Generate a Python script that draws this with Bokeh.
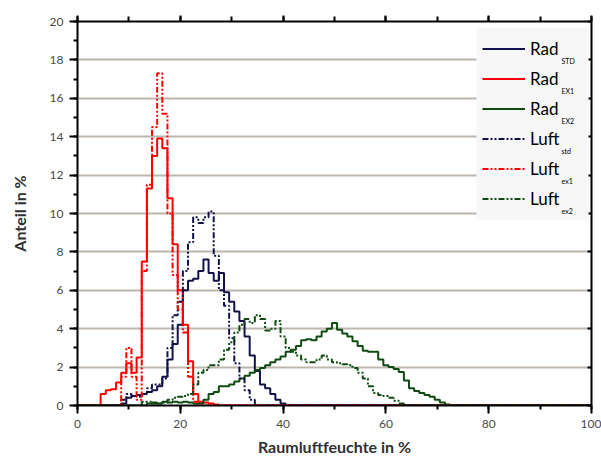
from bokeh.plotting import figure
from bokeh.models import (LinearAxis, SingleIntervalTicker, Legend, LegendItem,
                          Label, Range1d, CustomJSTickFormatter, BoxAnnotation)
from bokeh.embed import file_html
from bokeh.resources import INLINE

# ---------------- data ----------------
x_title = "Raumluftfeuchte in %"
y_title = "Anteil in %"
legend_names = ["Rad", "Rad", "Rad", "Luft", "Luft", "Luft"]
legend_subs = ["STD", "EX1", "EX2", "std", "ex1", "ex2"]

# histogram values (Anteil in %) per 1 % humidity bin, starting at the given humidity
rad_std_start = 8
rad_std = [0, 0.1, 0.4, 0.5, 0.55, 0.6, 0.7, 0.8, 1.0, 1.5, 2.4, 3.2, 4.2, 6.0, 6.5, 6.6,
           7.0, 7.6, 6.9, 6.5, 6.9, 5.9, 5.4, 4.9, 4.4, 3.6, 2.6, 1.8, 1.1, 0.9, 0.6, 0.3,
           0.1, 0]

rad_ex1_start = 4
rad_ex1 = [0, 0.6, 0.8, 0.85, 1.2, 1.7, 2.2, 1.7, 2.5, 7.5, 11.3, 13.0, 13.9, 13.4, 10.8,
           8.4, 6.0, 4.2, 2.3, 0.6, 0.2, 0.15, 0.1, 0.05, 0]

rad_ex2_start = 13
rad_ex2 = [0, 0.1, 0.15, 0.1, 0.2, 0.15, 0.2, 0.15, 0.2, 0.15, 0.1, 0.1, 0.3, 0.6, 0.7,
           1.0, 1.0, 1.1, 1.25, 1.4, 1.55, 1.7, 1.85, 1.95, 2.1, 2.25, 2.4, 2.55, 2.8, 2.9,
           3.1, 3.4, 3.45, 3.4, 3.6, 3.85, 4.0, 4.3, 3.95, 3.75, 3.6, 3.35, 3.1, 2.85, 2.8,
           2.8, 2.4, 2.1, 2.0, 1.9, 1.75, 1.3, 0.9, 0.75, 0.65, 0.55, 0.45, 0.3, 0.15, 0.05, 0]

luft_std_start = 8
luft_std = [0, 0.3, 0.6, 0.5, 0.45, 0.6, 0.9, 1.1, 1.1, 1.4, 3.0, 4.7, 5.4, 7.0, 8.5, 9.8,
            9.5, 9.8, 10.1, 7.8, 6.0, 5.2, 3.5, 2.2, 1.4, 0.8, 0.3, 0]

luft_ex1_start = 8
luft_ex1 = [0, 1.5, 3.0, 1.5, 0.3, 7.0, 11.5, 14.5, 17.3, 15.2, 10.0, 6.8, 5.0, 3.8, 1.5,
            0.2, 0]

luft_ex2_start = 12
luft_ex2 = [0, 0.2, 0.2, 0.1, 0.1, 0.15, 0.3, 0.4, 0.45, 0.5, 0.6, 1.1, 1.7, 1.85, 2.1,
            2.1, 2.4, 2.9, 3.3, 3.8, 4.2, 4.5, 4.3, 4.7, 4.5, 3.9, 4.0, 4.4, 3.6, 3.0, 2.8,
            2.6, 2.4, 2.25, 2.25, 2.4, 2.6, 2.4, 2.25, 2.2, 2.15, 2.1, 1.95, 1.7, 1.4, 1.0,
            0.65, 0.55, 0.5, 0.4, 0.25, 0.1, 0]

x_min, x_max = 0, 100
y_min, y_max = 0, 20


def full_series(start, vals):
    xs = list(range(x_min, x_max + 1))
    ys = [0.0] * len(xs)
    for i, v in enumerate(vals):
        ys[start + i] = v
    return xs, ys


# ---------------- styling ----------------
NAVY = "#12124a"
RED = "#ff0000"
GREEN = "#0e4a12"
DASHDOT = "6 2 2 2 2 2"
FONT = "Lato"

W, H = 601, 461
BL, BR, BT, BB = 77, 10, 21, 56
FW, FH = W - BL - BR, H - BT - BB


def px_to_x(px):   # px right of the frame's left edge -> data x
    return x_min + px * (x_max - x_min) / FW


def px_to_y(px):   # px above the frame's bottom edge -> data y
    return y_min + px * (y_max - y_min) / FH


p = figure(width=W, height=H, output_backend="svg", toolbar_location=None,
           x_range=Range1d(x_min, x_max), y_range=Range1d(y_min, y_max),
           min_border_left=BL, min_border_right=BR, min_border_top=BT,
           min_border_bottom=BB, x_axis_label=x_title, y_axis_label=y_title)
p.outline_line_color = None
p.background_fill_color = "white"
p.border_fill_color = "white"

p.xgrid.visible = False
p.ygrid.grid_line_color = "#bdb6ae"
p.ygrid.grid_line_width = 2

xt = SingleIntervalTicker(interval=20, num_minor_ticks=2)
yt = SingleIntervalTicker(interval=2, num_minor_ticks=2)
p.xaxis.ticker = xt
p.yaxis.ticker = yt

for ax in (p.xaxis[0], p.yaxis[0]):
    ax.axis_line_width = 2
    ax.axis_line_color = "black"
    ax.major_tick_line_width = 2
    ax.minor_tick_line_width = 2
    ax.major_tick_in = 0
    ax.major_tick_out = 8
    ax.minor_tick_in = 0
    ax.minor_tick_out = 4
    ax.major_label_text_font = FONT
    ax.major_label_text_font_size = "12px"
    ax.major_label_text_color = "#4a4a4a"
    ax.axis_label_text_font = FONT
    ax.axis_label_text_font_style = "bold"
    ax.axis_label_text_font_size = "16px"
    ax.axis_label_text_color = "#303030"

p.xaxis.major_label_standoff = 6
p.xaxis.axis_label_standoff = 6
p.yaxis.major_label_standoff = 6
p.yaxis.axis_label_standoff = 18

top = LinearAxis(ticker=SingleIntervalTicker(interval=20, num_minor_ticks=2),
                 formatter=CustomJSTickFormatter(code="return '';"), axis_line_width=2,
                 major_tick_in=0, major_tick_out=6, minor_tick_in=0, minor_tick_out=5,
                 major_tick_line_width=2, minor_tick_line_width=2)
p.add_layout(top, "above")
right = LinearAxis(ticker=SingleIntervalTicker(interval=2, num_minor_ticks=2),
                   formatter=CustomJSTickFormatter(code="return '';"), axis_line_width=2,
                   major_tick_in=4, major_tick_out=0, minor_tick_in=0, minor_tick_out=0,
                   major_tick_line_width=2)
p.add_layout(right, "right")

series = [
    (rad_std_start, rad_std, NAVY, "solid"),
    (rad_ex1_start, rad_ex1, RED, "solid"),
    (rad_ex2_start, rad_ex2, GREEN, "solid"),
    (luft_std_start, luft_std, NAVY, DASHDOT),
    (luft_ex1_start, luft_ex1, RED, DASHDOT),
    (luft_ex2_start, luft_ex2, GREEN, DASHDOT),
]

renderers = []
for start, vals, col, dash in series:
    xs, ys = full_series(start, vals)
    r = p.step(xs, ys, mode="center", line_color=col, line_width=2, line_dash=dash)
    renderers.append(r)

# legend background box (drawn separately so the subscripts can sit above it)
p.add_layout(BoxAnnotation(left=px_to_x(399), right=px_to_x(511),
                           bottom=px_to_y(186), top=px_to_y(378),
                           fill_color="#f7f7f7", fill_alpha=1.0, line_color=None))

# subscripts of the legend labels
for i, sub in enumerate(legend_subs):
    p.add_layout(Label(x=px_to_x(484), y=px_to_y(345 - 30 * i),
                       text=sub, text_font=FONT, text_font_size="7px",
                       text_baseline="middle", text_color="black"))

items = [LegendItem(label=n, renderers=[r]) for n, r in zip(legend_names, renderers)]
legend = Legend(items=items, location=(405, 193), orientation="vertical",
                background_fill_alpha=0.0, border_line_color=None,
                glyph_width=43, glyph_height=27, label_height=27, label_width=50,
                label_standoff=5, spacing=3, padding=7, margin=0,
                label_text_font=FONT, label_text_font_size="17px",
                label_text_color="black")
p.add_layout(legend, "center")

open("out.html", "w").write(file_html(p, INLINE))
